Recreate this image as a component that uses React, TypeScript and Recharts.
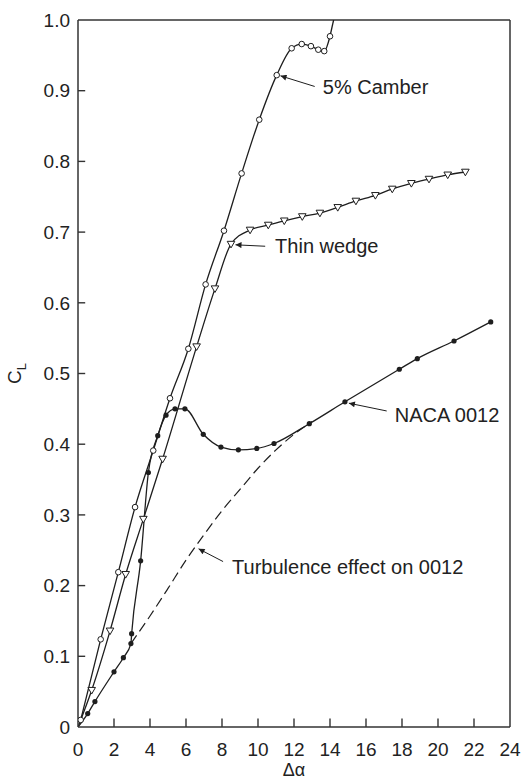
import * as React from "react"
import {
  LineChart,
  Line,
  XAxis,
  YAxis,
  ReferenceLine,
  ReferenceDot,
} from "recharts"

// 5% camber (open circles)
const camberAlpha = [0.15, 1.26, 2.24, 3.17, 4.18, 5.11, 6.13, 7.09, 8.11, 9.09, 10.07, 11.04, 11.87, 12.43, 12.94, 13.35, 13.68, 14.0]
const camberCL = [0.01, 0.124, 0.219, 0.311, 0.391, 0.465, 0.535, 0.626, 0.702, 0.783, 0.859, 0.922, 0.96, 0.966, 0.963, 0.958, 0.956, 0.977]
// last stretch of the camber curve, runs off the top without a marker
const camberTailAlpha = [14.0, 14.2]
const camberTailCL = [0.977, 1.0]

// thin wedge (open triangles)
const wedgeAlpha = [0, 0.76, 1.78, 2.65, 3.63, 4.7, 6.59, 7.61, 8.5, 9.56, 10.57, 11.46, 12.46, 13.44, 14.43, 15.44, 16.52, 17.46, 18.52, 19.5, 20.54, 21.52]
const wedgeCL = [0, 0.052, 0.136, 0.216, 0.294, 0.379, 0.538, 0.62, 0.683, 0.703, 0.71, 0.716, 0.722, 0.727, 0.735, 0.744, 0.752, 0.761, 0.769, 0.775, 0.781, 0.785]

// NACA 0012 (filled dots)
const nacaAlpha = [0, 0.54, 0.94, 2.0, 2.52, 2.94, 2.98, 3.48, 3.91, 4.43, 4.89, 5.39, 5.94, 6.96, 7.94, 8.91, 9.93, 10.89, 12.85, 14.83, 17.85, 18.85, 20.89, 22.93]
const nacaCL = [0, 0.019, 0.036, 0.078, 0.098, 0.118, 0.132, 0.235, 0.36, 0.412, 0.441, 0.45, 0.45, 0.414, 0.396, 0.392, 0.394, 0.401, 0.429, 0.46, 0.506, 0.521, 0.546, 0.573]

// turbulence effect on 0012 (dashed, no markers)
const turbAlpha = [2.94, 4, 5, 6, 7, 8, 9, 10, 11, 12, 13]
const turbCL = [0.118, 0.157, 0.196, 0.236, 0.272, 0.306, 0.336, 0.366, 0.392, 0.414, 0.432]

const xTicks = [0, 2, 4, 6, 8, 10, 12, 14, 16, 18, 20, 22, 24]
const yTicks = [0, 0.1, 0.2, 0.3, 0.4, 0.5, 0.6, 0.7, 0.8, 0.9, 1.0]

// callout labels: text anchor and arrow (from -> to), in data units
const callouts = [
  { text: "5% Camber", at: [13.6, 0.905], from: [13.15, 0.906], to: [11.25, 0.921] },
  { text: "Thin wedge", at: [10.95, 0.68], from: [10.4, 0.68], to: [8.75, 0.682] },
  { text: "NACA 0012", at: [17.6, 0.441], from: [17.15, 0.447], to: [15.05, 0.458] },
  { text: "Turbulence effect on 0012", at: [8.56, 0.227], from: [8.06, 0.234], to: [6.7, 0.252] },
]

const zip = (xs: number[], ys: number[]) => xs.map((x, i) => ({ x, y: ys[i] }))

const INK = "#1e1e1e"
const AXIS = "#333"
const FONT = "'Liberation Sans', Arial, Helvetica, sans-serif"

// inward tick length, in data units (~8px up, ~7px right)
const X_TICK_LEN = 0.012
const Y_TICK_LEN = 0.4

const CircleDot = (p: any) => (
  <circle key={`c${p.index}`} cx={p.cx} cy={p.cy} r={2.8} fill="#fff" stroke={INK} strokeWidth={1} />
)

const TriDot = (p: any) => {
  if (p.payload && p.payload.x === 0) return <g key={`t${p.index}`} />
  const { cx, cy } = p
  return (
    <path
      key={`t${p.index}`}
      d={`M${cx - 3.8},${cy - 2.8} L${cx + 3.8},${cy - 2.8} L${cx},${cy + 3.8} Z`}
      fill="#fff"
      stroke={INK}
      strokeWidth={1}
    />
  )
}

const FilledDot = (p: any) => {
  if (p.payload && p.payload.x === 0) return <g key={`f${p.index}`} />
  return <circle key={`f${p.index}`} cx={p.cx} cy={p.cy} r={2.6} fill={INK} stroke="none" />
}

export default function App() {
  const camber = zip(camberAlpha, camberCL)
  const camberTail = zip(camberTailAlpha, camberTailCL)
  const wedge = zip(wedgeAlpha, wedgeCL)
  const naca = zip(nacaAlpha, nacaCL)
  const turb = zip(turbAlpha, turbCL)

  const tickStyle = { fill: "#222", fontSize: 19, fontFamily: FONT }

  return (
    <div style={{ position: "absolute", left: 0, top: 0, background: "#fff" }}>
      <LineChart width={525} height={780} margin={{ top: 20, right: 15, left: 18, bottom: 3 }}>
        <defs>
          <marker id="arrowHead" viewBox="0 0 10 10" refX="10" refY="5" markerWidth="11" markerHeight="6" orient="auto" markerUnits="userSpaceOnUse">
            <path d="M0,0 L10,5 L0,10 z" fill={INK} />
          </marker>
        </defs>

        <XAxis
          dataKey="x"
          type="number"
          domain={[0, 24]}
          ticks={xTicks}
          allowDataOverflow
          height={50}
          stroke={AXIS}
          strokeWidth={1.5}
          tickLine={false}
          tickMargin={10}
          tick={tickStyle}
          label={{
            content: (props: any) => {
              const vb = props.viewBox
              return (
                <text x={vb.x + vb.width / 2} y={vb.y + 49} textAnchor="middle" fontSize={18} fontFamily={FONT} fill="#222">
                  Δα
                </text>
              )
            },
          }}
        />
        <YAxis
          dataKey="y"
          type="number"
          domain={[0, 1]}
          ticks={yTicks}
          allowDataOverflow
          width={60}
          stroke={AXIS}
          strokeWidth={1.5}
          tickLine={false}
          tickMargin={2}
          tick={tickStyle}
          tickFormatter={(v: number) => (v === 0 ? "0" : v.toFixed(1))}
          label={{
            content: (props: any) => {
              const vb = props.viewBox
              const cy = vb.y + vb.height / 2
              return (
                <text x={21} y={cy} transform={`rotate(-90, 21, ${cy})`} textAnchor="middle" fontSize={19} fontFamily={FONT} fill="#222">
                  C<tspan fontSize={13} dy={5}>L</tspan>
                </text>
              )
            },
          }}
        />

        {/* inward tick marks */}
        {xTicks.slice(1, -1).map((t) => (
          <ReferenceLine key={`xt${t}`} segment={[{ x: t, y: 0 }, { x: t, y: X_TICK_LEN }]} stroke={AXIS} strokeWidth={1.4} ifOverflow="visible" />
        ))}
        {yTicks.slice(1, -1).map((t) => (
          <ReferenceLine key={`yt${t}`} segment={[{ x: 0, y: t }, { x: Y_TICK_LEN, y: t }]} stroke={AXIS} strokeWidth={1.4} ifOverflow="visible" />
        ))}

        {/* frame: top and right edges */}
        <ReferenceLine y={1} stroke={AXIS} strokeWidth={1.5} />
        <ReferenceLine x={24} stroke={AXIS} strokeWidth={1.5} />

        <Line data={turb} dataKey="y" type="monotone" stroke={INK} strokeWidth={1.2} strokeDasharray="10 5" dot={false} activeDot={false} isAnimationActive={false} />
        <Line data={camberTail} dataKey="y" type="linear" stroke={INK} strokeWidth={1.3} dot={false} activeDot={false} isAnimationActive={false} />
        <Line data={camber} dataKey="y" type="monotone" stroke={INK} strokeWidth={1.3} dot={CircleDot} activeDot={false} isAnimationActive={false} />
        <Line data={wedge} dataKey="y" type="monotone" stroke={INK} strokeWidth={1.3} dot={TriDot} activeDot={false} isAnimationActive={false} />
        <Line data={naca} dataKey="y" type="monotone" stroke={INK} strokeWidth={1.3} dot={FilledDot} activeDot={false} isAnimationActive={false} />

        {callouts.map((c) => (
          <ReferenceLine
            key={`a-${c.text}`}
            segment={[{ x: c.from[0], y: c.from[1] }, { x: c.to[0], y: c.to[1] }]}
            stroke={INK}
            strokeWidth={1}
            markerEnd="url(#arrowHead)"
          />
        ))}
        {callouts.map((c) => (
          <ReferenceDot
            key={`t-${c.text}`}
            x={c.at[0]}
            y={c.at[1]}
            r={0}
            stroke="none"
            fill="none"
            label={{ value: c.text, position: "right", offset: 0, fill: "#222", fontSize: 20, fontFamily: FONT }}
          />
        ))}
      </LineChart>
    </div>
  )
}
